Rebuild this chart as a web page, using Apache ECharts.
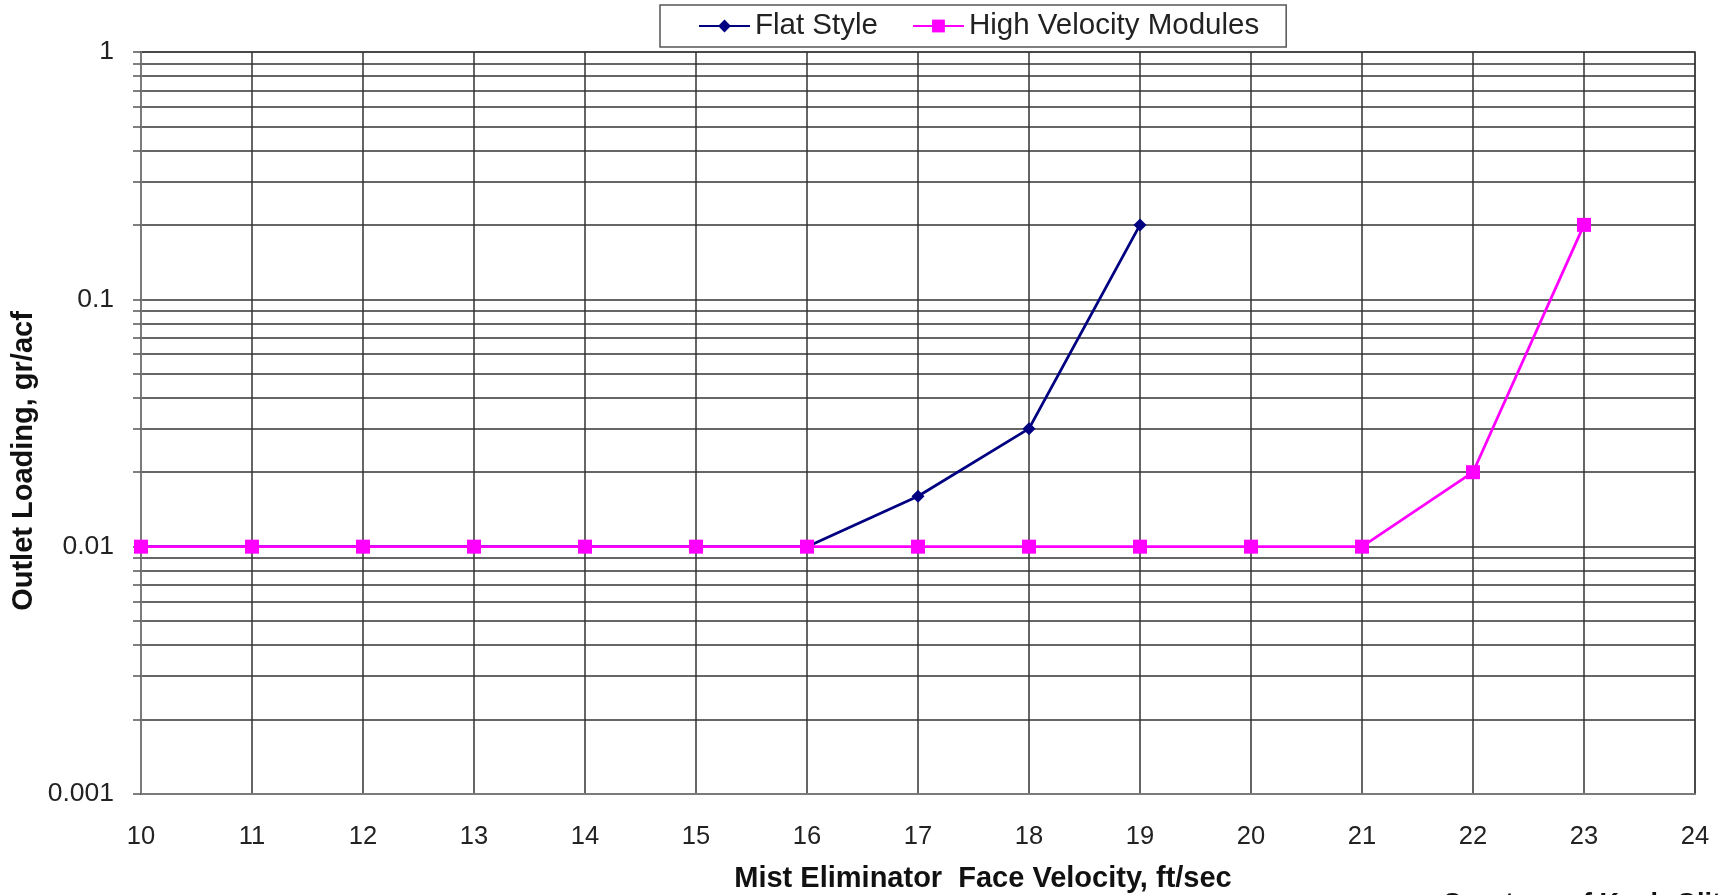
<!DOCTYPE html>
<html>
<head>
<meta charset="utf-8">
<title>Outlet Loading vs Mist Eliminator Face Velocity</title>
<script src="https://cdn.jsdelivr.net/npm/echarts@6/dist/echarts.min.js"></script>
<style>
    html, body { margin: 0; padding: 0; background: #fff; }
    #chart { width: 1722px; height: 895px; }
</style>
</head>
<body>
<div id="chart"></div>
<script>
// x = face velocity (ft/sec), y = outlet loading (gr/acf)
const flatVelocity = [10, 11, 12, 13, 14, 15, 16, 17, 18, 19];
const flatLoading = [0.01, 0.01, 0.01, 0.01, 0.01, 0.01, 0.01, 0.016, 0.03, 0.2];
const hvVelocity = [10, 11, 12, 13, 14, 15, 16, 17, 18, 19, 20, 21, 22, 23];
const hvLoading = [0.01, 0.01, 0.01, 0.01, 0.01, 0.01, 0.01, 0.01, 0.01, 0.01, 0.01, 0.01, 0.02, 0.2];

const xMin = 10, xMax = 24, xStep = 1;
const yMin = 0.001, yMax = 1;
// minor log gridlines 2..9 in every decade
const yMinorTicks = [
    0.002, 0.003, 0.004, 0.005, 0.006, 0.007, 0.008, 0.009,
    0.02, 0.03, 0.04, 0.05, 0.06, 0.07, 0.08, 0.09,
    0.2, 0.3, 0.4, 0.5, 0.6, 0.7, 0.8, 0.9
];

const pairs = (xs, ys) => xs.map((x, i) => [x, ys[i]]);

const font = 'Liberation Sans, Arial, sans-serif';
const gridLine = { color: '#333', width: 1.5 };

const myChart = echarts.init(document.getElementById('chart'));
const option = {
    animation: false,
    textStyle: { fontFamily: font, color: '#222' },
    legend: {
        left: 660,
        top: 5,
        padding: [6, 27, 6, 38],
        itemGap: 34,
        itemWidth: 51,
        itemHeight: 16,
        borderColor: '#555',
        borderWidth: 1.5,
        textStyle: { fontSize: 29.5, color: '#222', fontFamily: font }
    },
    grid: {
        left: 141,
        right: 27,
        top: 52,
        bottom: 101,
        show: true,
        borderColor: '#8a8a8a',
        borderWidth: 2
    },
    xAxis: {
        type: 'value',
        min: xMin,
        max: xMax,
        interval: xStep,
        axisLine: { lineStyle: { color: '#7a7a7a', width: 2 } },
        axisTick: { show: false },
        axisLabel: { fontSize: 25.5, color: '#222', margin: 30 },
        splitLine: { lineStyle: gridLine }
    },
    yAxis: [
        {
            type: 'log',
            logBase: 10,
            min: yMin,
            max: yMax,
            axisLine: { show: true, lineStyle: { color: '#7a7a7a', width: 2 } },
            axisTick: { show: true, length: 8, lineStyle: { color: '#555', width: 1.5 } },
            axisLabel: {
                fontSize: 26.5, color: '#222', margin: 27,
                formatter: v => String(v)
            },
            splitLine: { lineStyle: gridLine }
        },
        {
            type: 'log',
            logBase: 10,
            min: yMin,
            max: yMax,
            position: 'left',
            axisLine: { show: false },
            axisTick: { show: true, length: 8, customValues: yMinorTicks, lineStyle: { color: '#555', width: 1.5 } },
            axisLabel: { show: false },
            splitLine: { show: true, lineStyle: gridLine }
        }
    ],
    graphic: [
        {
            type: 'text',
            x: 24,
            y: 461,
            rotation: Math.PI / 2,
            style: {
                text: 'Outlet Loading, gr/acf',
                font: 'bold 29px ' + font,
                fill: '#111',
                textAlign: 'center',
                textVerticalAlign: 'middle'
            }
        },
        {
            type: 'text',
            x: 983,
            y: 879,
            style: {
                text: 'Mist Eliminator  Face Velocity, ft/sec',
                font: 'bold 29px ' + font,
                fill: '#111',
                textAlign: 'center',
                textVerticalAlign: 'middle'
            }
        },
        {
            type: 'text',
            x: 1442,
            y: 891,
            style: {
                text: 'Courtesy of Koch-Glitsch',
                font: 'bold 27px ' + font,
                fill: '#111',
                textAlign: 'left',
                textVerticalAlign: 'top'
            }
        }
    ],
    series: [
        {
            name: 'Flat Style',
            type: 'line',
            data: pairs(flatVelocity, flatLoading),
            symbol: 'diamond',
            symbolSize: 13,
            color: '#000080',
            lineStyle: { width: 2.8, color: '#000080' },
            itemStyle: { color: '#000080' }
        },
        {
            name: 'High Velocity Modules',
            type: 'line',
            data: pairs(hvVelocity, hvLoading),
            symbol: 'rect',
            symbolSize: 14,
            color: '#ff00ff',
            lineStyle: { width: 2.8, color: '#ff00ff' },
            itemStyle: { color: '#ff00ff' }
        }
    ]
};
myChart.setOption(option);
window.addEventListener('resize', function () {
    myChart.resize();
});
</script>
</body>
</html>
